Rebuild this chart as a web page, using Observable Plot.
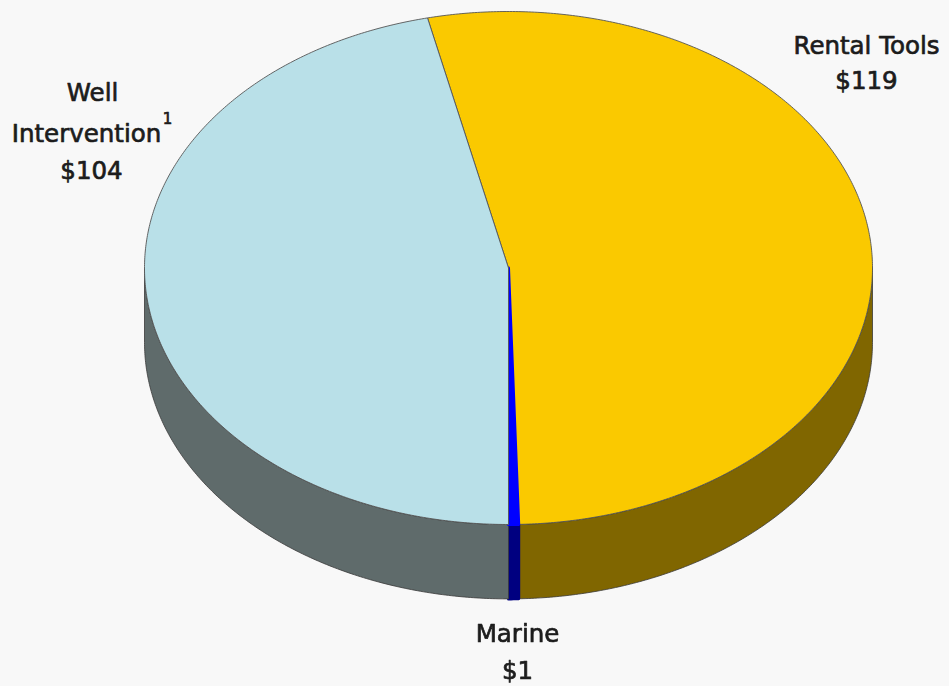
<!DOCTYPE html>
<html>
<head>
<meta charset="utf-8">
<script src="https://cdn.jsdelivr.net/npm/d3@7"></script>
<script src="https://cdn.jsdelivr.net/npm/@observablehq/plot@0.6"></script>
<style>
html,body{margin:0;padding:0;background:#f8f8f8;}
svg{display:block;filter:blur(0.55px);}
</style>
</head>
<body>
<div id="chart"></div>
<script>
const categories = ["Rental Tools", "Marine", "Well Intervention"];
const values = [119, 1, 104];
const rentalLabel = "Rental Tools\n$119";
const marineLabel = "Marine\n$1";
const wellLines = ["Well", "Intervention", "$104"];
const footnoteMark = "1";
const topColors = ["#fac900", "#0000ff", "#b9e0e8"];
const sideColors = ["#806600", "#000080", "#5f6b6b"];

const W = 949, H = 686;
const DEG = Math.PI / 180;
const DEPTH = 0.29;            // rim height in units of the vertical radius
const total = d3.sum(values);
// The Well Intervention slice starts at the very bottom of the pie.
const start = Math.PI - (values[0] + values[1]) / total * 2 * Math.PI;
const arcs = d3.pie().sort(null).startAngle(start).endAngle(start + 2 * Math.PI)(values);

const rim = (a) => ({x: Math.sin(a), y: Math.cos(a)});
const sweep = (a0, a1) => {
  const n = Math.max(2, Math.ceil((a1 - a0) / (0.5 * DEG)));
  return d3.range(n + 1).map((i) => rim(a0 + (a1 - a0) * i / n));
};

const tops = arcs.map((d) => [{x: 0, y: 0}, ...sweep(d.startAngle, d.endAngle), {x: 0, y: 0}]);
const sides = arcs.map((d) => {
  const a0 = Math.max(d.startAngle, Math.PI / 2), a1 = Math.min(d.endAngle, 3 * Math.PI / 2);
  if (a1 <= a0) return [];
  const upper = sweep(a0, a1);
  const lower = upper.map((p) => ({x: p.x, y: p.y - DEPTH})).reverse();
  return [...upper, ...lower, upper[0]];
});

const textStyle = {fontFamily: "DejaVu Sans, Verdana, sans-serif", fill: "#1c1c1c", stroke: "#1c1c1c", strokeWidth: 0.7, frameAnchor: "top-left", fontSize: 24.5, textAnchor: "middle", lineAnchor: "middle"};

const chart = Plot.plot({
  width: W, height: H,
  margin: 0,
  style: {background: "#f8f8f8", overflow: "visible"},
  x: {domain: [-1, 1], range: [144, 872], axis: null},
  y: {domain: [1, -1], range: [11, 524], axis: null},
  marks: [
    ...sides.map((s, i) => Plot.line(s, {x: "x", y: "y", fill: sideColors[i], stroke: i === 1 ? sideColors[1] : "#3a3a3a", strokeWidth: i === 1 ? 3 : 0.8, curve: "linear"})),
    ...tops.map((s, i) => Plot.line(s, {x: "x", y: "y", fill: topColors[i], stroke: i === 1 ? topColors[1] : "#555", strokeWidth: i === 1 ? 3 : 0.9, curve: "linear"})),
    Plot.text([rentalLabel], {...textStyle, lineHeight: 1.43, dx: 866, dy: 60}),
    Plot.text([marineLabel], {...textStyle, lineHeight: 1.51, dx: 517, dy: 648}),
    Plot.text([wellLines[0]], {...textStyle, dx: 92, dy: 93}),
    Plot.text([wellLines[1]], {...textStyle, dx: 86, dy: 134}),
    Plot.text([wellLines[2]], {...textStyle, dx: 91, dy: 171}),
    Plot.text([footnoteMark], {...textStyle, fontSize: 15, dx: 167, dy: 119})
  ]
});
document.getElementById("chart").append(chart);
</script>
</body>
</html>
